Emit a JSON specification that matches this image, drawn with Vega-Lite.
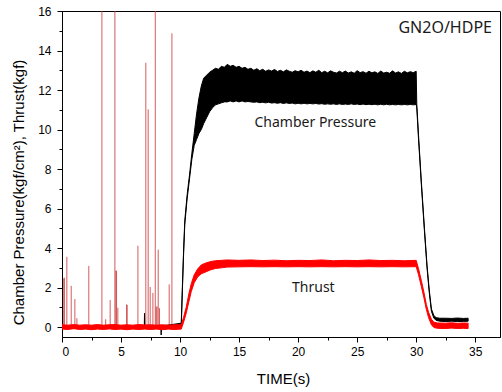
{
  "$schema": "https://vega.github.io/schema/vega-lite/v6.json",
  "width": 438,
  "height": 326,
  "autosize": "none",
  "padding": {"left": 62, "top": 11, "right": 2, "bottom": 55},
  "background": "white",
  "config": {
    "view": {"stroke": "#000", "strokeWidth": 1},
    "axis": {
      "domainColor": "#000", "tickColor": "#000", "labelColor": "#000", "titleColor": "#000",
      "labelFont": "Liberation Sans", "labelFontSize": 12, "titleFont": "Liberation Sans",
      "titleFontSize": 15, "titleFontWeight": "normal", "grid": false
    }
  },
  "datasets": {
    "pressure": [
      {"t": 0, "lo": -0.05, "hi": 0.05}, {"t": 2, "lo": -0.05, "hi": 0.05}, {"t": 4, "lo": -0.05, "hi": 0.05},
      {"t": 6.97, "lo": -0.05, "hi": 0.05}, {"t": 6.99, "lo": -0.05, "hi": 0.7}, {"t": 7.01, "lo": -0.05, "hi": 0.05},
      {"t": 8.38, "lo": -0.05, "hi": 0.05}, {"t": 8.4, "lo": -0.4, "hi": 0.05}, {"t": 8.42, "lo": -0.05, "hi": 0.05},
      {"t": 10.1, "lo": 0.0, "hi": 0.2}, {"t": 10.2, "lo": 1.9, "hi": 2.1}, {"t": 10.3, "lo": 3.7, "hi": 3.9},
      {"t": 10.4, "lo": 5.2, "hi": 5.4}, {"t": 10.6, "lo": 6.5, "hi": 6.7}, {"t": 10.8, "lo": 7.5, "hi": 7.7},
      {"t": 11.0, "lo": 8.5, "hi": 8.8}, {"t": 11.2, "lo": 9.2, "hi": 9.8}, {"t": 11.4, "lo": 9.5, "hi": 10.8},
      {"t": 11.6, "lo": 9.8, "hi": 11.6}, {"t": 11.8, "lo": 10.0, "hi": 12.2}, {"t": 12.0, "lo": 10.3, "hi": 12.6},
      {"t": 12.25, "lo": 10.6, "hi": 12.75}, {"t": 12.5, "lo": 10.9, "hi": 12.9}, {"t": 12.75, "lo": 11.1, "hi": 13.0},
      {"t": 13.0, "lo": 11.25, "hi": 13.1}, {"t": 13.25, "lo": 11.3, "hi": 13.05}, {"t": 13.5, "lo": 11.35, "hi": 13.2},
      {"t": 13.75, "lo": 11.4, "hi": 13.15}, {"t": 14.0, "lo": 11.4, "hi": 13.3}, {"t": 14.25, "lo": 11.45, "hi": 13.2},
      {"t": 14.5, "lo": 11.4, "hi": 13.25}, {"t": 14.75, "lo": 11.45, "hi": 13.15}, {"t": 15.0, "lo": 11.4, "hi": 13.2},
      {"t": 15.25, "lo": 11.45, "hi": 13.1}, {"t": 15.5, "lo": 11.4, "hi": 13.15}, {"t": 15.75, "lo": 11.42, "hi": 13.05},
      {"t": 16.0, "lo": 11.4, "hi": 13.1}, {"t": 16.25, "lo": 11.38, "hi": 13.0}, {"t": 16.5, "lo": 11.4, "hi": 13.08},
      {"t": 16.75, "lo": 11.36, "hi": 12.98}, {"t": 17.0, "lo": 11.38, "hi": 13.05}, {"t": 17.25, "lo": 11.35, "hi": 12.95},
      {"t": 17.5, "lo": 11.38, "hi": 13.02}, {"t": 17.75, "lo": 11.34, "hi": 12.96}, {"t": 18.0, "lo": 11.36, "hi": 13.04},
      {"t": 18.25, "lo": 11.33, "hi": 12.94}, {"t": 18.5, "lo": 11.36, "hi": 13.0}, {"t": 18.75, "lo": 11.32, "hi": 12.92},
      {"t": 19.0, "lo": 11.35, "hi": 13.02}, {"t": 19.25, "lo": 11.32, "hi": 12.95}, {"t": 19.5, "lo": 11.34, "hi": 12.9},
      {"t": 19.75, "lo": 11.3, "hi": 12.98}, {"t": 20.0, "lo": 11.33, "hi": 12.92}, {"t": 20.25, "lo": 11.3, "hi": 13.0},
      {"t": 20.5, "lo": 11.33, "hi": 12.9}, {"t": 20.75, "lo": 11.3, "hi": 12.96}, {"t": 21.0, "lo": 11.32, "hi": 12.88},
      {"t": 21.25, "lo": 11.3, "hi": 12.97}, {"t": 21.5, "lo": 11.32, "hi": 12.9}, {"t": 21.75, "lo": 11.29, "hi": 13.0},
      {"t": 22.0, "lo": 11.31, "hi": 12.88}, {"t": 22.25, "lo": 11.28, "hi": 12.95}, {"t": 22.5, "lo": 11.3, "hi": 12.87},
      {"t": 22.75, "lo": 11.28, "hi": 12.97}, {"t": 23.0, "lo": 11.3, "hi": 12.9}, {"t": 23.25, "lo": 11.27, "hi": 12.86},
      {"t": 23.5, "lo": 11.3, "hi": 12.95}, {"t": 23.75, "lo": 11.27, "hi": 12.88}, {"t": 24.0, "lo": 11.29, "hi": 12.96},
      {"t": 24.25, "lo": 11.27, "hi": 12.86}, {"t": 24.5, "lo": 11.3, "hi": 12.92}, {"t": 24.75, "lo": 11.27, "hi": 12.85},
      {"t": 25.0, "lo": 11.29, "hi": 12.98}, {"t": 25.25, "lo": 11.26, "hi": 12.88}, {"t": 25.5, "lo": 11.29, "hi": 12.93},
      {"t": 25.75, "lo": 11.26, "hi": 12.85}, {"t": 26.0, "lo": 11.28, "hi": 12.95}, {"t": 26.25, "lo": 11.26, "hi": 12.87},
      {"t": 26.5, "lo": 11.28, "hi": 12.92}, {"t": 26.75, "lo": 11.25, "hi": 12.84}, {"t": 27.0, "lo": 11.28, "hi": 12.96},
      {"t": 27.25, "lo": 11.25, "hi": 12.86}, {"t": 27.5, "lo": 11.28, "hi": 12.9}, {"t": 27.75, "lo": 11.25, "hi": 12.85},
      {"t": 28.0, "lo": 11.27, "hi": 12.97}, {"t": 28.25, "lo": 11.25, "hi": 12.86}, {"t": 28.5, "lo": 11.27, "hi": 12.92},
      {"t": 28.75, "lo": 11.25, "hi": 12.84}, {"t": 29.0, "lo": 11.27, "hi": 12.95}, {"t": 29.25, "lo": 11.25, "hi": 12.87},
      {"t": 29.5, "lo": 11.27, "hi": 12.93}, {"t": 29.75, "lo": 11.25, "hi": 12.88}, {"t": 30.0, "lo": 11.27, "hi": 12.95},
      {"t": 30.05, "lo": 11.1, "hi": 11.3}, {"t": 30.2, "lo": 9.5, "hi": 9.7}, {"t": 30.44, "lo": 7.2, "hi": 7.35},
      {"t": 30.7, "lo": 4.85, "hi": 5.0}, {"t": 30.92, "lo": 3.0, "hi": 3.12}, {"t": 31.1, "lo": 1.8, "hi": 1.92},
      {"t": 31.29, "lo": 0.8, "hi": 0.92}, {"t": 31.5, "lo": 0.45, "hi": 0.58}, {"t": 31.7, "lo": 0.34, "hi": 0.48},
      {"t": 32.0, "lo": 0.3, "hi": 0.45}, {"t": 32.5, "lo": 0.28, "hi": 0.45}, {"t": 33.0, "lo": 0.3, "hi": 0.44},
      {"t": 33.5, "lo": 0.28, "hi": 0.46}, {"t": 34.0, "lo": 0.29, "hi": 0.44}, {"t": 34.4, "lo": 0.3, "hi": 0.45}
    ],
    "thrust": [
      {"t": 0, "lo": -0.1, "hi": 0.12}, {"t": 0.5, "lo": -0.12, "hi": 0.1}, {"t": 1, "lo": -0.08, "hi": 0.13},
      {"t": 1.5, "lo": -0.12, "hi": 0.1}, {"t": 2, "lo": -0.1, "hi": 0.12}, {"t": 2.5, "lo": -0.13, "hi": 0.1},
      {"t": 3, "lo": -0.1, "hi": 0.13}, {"t": 3.5, "lo": -0.12, "hi": 0.1}, {"t": 4, "lo": -0.09, "hi": 0.12},
      {"t": 4.5, "lo": -0.12, "hi": 0.13}, {"t": 5, "lo": -0.1, "hi": 0.1}, {"t": 5.5, "lo": -0.13, "hi": 0.12},
      {"t": 6, "lo": -0.1, "hi": 0.1}, {"t": 6.5, "lo": -0.12, "hi": 0.13}, {"t": 7, "lo": -0.1, "hi": 0.11},
      {"t": 7.5, "lo": -0.12, "hi": 0.12}, {"t": 8, "lo": -0.1, "hi": 0.1}, {"t": 8.5, "lo": -0.13, "hi": 0.12},
      {"t": 9, "lo": -0.1, "hi": 0.1}, {"t": 9.5, "lo": -0.12, "hi": 0.12}, {"t": 10.1, "lo": -0.1, "hi": 0.12},
      {"t": 10.3, "lo": 0.25, "hi": 0.5}, {"t": 10.52, "lo": 0.7, "hi": 1.0}, {"t": 10.75, "lo": 1.3, "hi": 1.7},
      {"t": 10.95, "lo": 1.8, "hi": 2.2}, {"t": 11.2, "lo": 2.25, "hi": 2.65}, {"t": 11.5, "lo": 2.55, "hi": 2.95},
      {"t": 11.8, "lo": 2.7, "hi": 3.15}, {"t": 12.2, "lo": 2.8, "hi": 3.25}, {"t": 12.6, "lo": 2.9, "hi": 3.32},
      {"t": 13.0, "lo": 2.97, "hi": 3.36}, {"t": 13.5, "lo": 3.0, "hi": 3.38}, {"t": 14, "lo": 3.04, "hi": 3.4},
      {"t": 15, "lo": 3.05, "hi": 3.38}, {"t": 16, "lo": 3.06, "hi": 3.4}, {"t": 17, "lo": 3.05, "hi": 3.37},
      {"t": 18, "lo": 3.06, "hi": 3.39}, {"t": 19, "lo": 3.05, "hi": 3.36}, {"t": 20, "lo": 3.06, "hi": 3.38},
      {"t": 21, "lo": 3.05, "hi": 3.37}, {"t": 22, "lo": 3.06, "hi": 3.4}, {"t": 23, "lo": 3.05, "hi": 3.36},
      {"t": 24, "lo": 3.06, "hi": 3.38}, {"t": 25, "lo": 3.05, "hi": 3.37}, {"t": 26, "lo": 3.06, "hi": 3.4},
      {"t": 27, "lo": 3.05, "hi": 3.37}, {"t": 28, "lo": 3.06, "hi": 3.38}, {"t": 29, "lo": 3.05, "hi": 3.36},
      {"t": 30.0, "lo": 3.06, "hi": 3.38}, {"t": 30.2, "lo": 2.65, "hi": 2.95}, {"t": 30.44, "lo": 2.05, "hi": 2.35},
      {"t": 30.65, "lo": 1.5, "hi": 1.78}, {"t": 30.86, "lo": 0.9, "hi": 1.15}, {"t": 31.05, "lo": 0.48, "hi": 0.75},
      {"t": 31.29, "lo": 0.12, "hi": 0.4}, {"t": 31.5, "lo": -0.02, "hi": 0.25}, {"t": 31.8, "lo": -0.06, "hi": 0.21},
      {"t": 32.5, "lo": -0.07, "hi": 0.2}, {"t": 33, "lo": -0.05, "hi": 0.22}, {"t": 33.5, "lo": -0.07, "hi": 0.19},
      {"t": 34, "lo": -0.06, "hi": 0.21}, {"t": 34.4, "lo": -0.07, "hi": 0.2}
    ],
    "spikes": [
      {"t": 0.15, "v": 2.47}, {"t": 0.2, "v": 2.5}, {"t": 0.41, "v": 3.56}, {"t": 0.78, "v": 2.09},
      {"t": 1.09, "v": 1.42}, {"t": 1.26, "v": 0.45}, {"t": 2.27, "v": 3.1}, {"t": 3.38, "v": 16.5},
      {"t": 3.7, "v": 0.4}, {"t": 4.08, "v": 1.37}, {"t": 4.48, "v": 16.5}, {"t": 4.56, "v": 2.87},
      {"t": 4.62, "v": 2.85}, {"t": 4.73, "v": 0.98}, {"t": 5.47, "v": 1.15}, {"t": 5.52, "v": 1.12},
      {"t": 6.43, "v": 4.12}, {"t": 7.1, "v": 13.38}, {"t": 7.3, "v": 11.02}, {"t": 7.47, "v": 2.03},
      {"t": 7.7, "v": 1.73}, {"t": 7.9, "v": 16.5}, {"t": 7.98, "v": 1.03}, {"t": 8.05, "v": 1.05},
      {"t": 8.15, "v": 3.92}, {"t": 8.26, "v": 0.96}, {"t": 9.08, "v": 2.16}, {"t": 9.31, "v": 14.87}
    ],
    "labels": [
      {"t": 21.46, "v": 10.35, "label": "Chamber Pressure"},
      {"t": 21.29, "v": 1.97, "label": "Thrust"},
      {"t": 32.46, "v": 15.16, "label": "GN2O/HDPE"}
    ]
  },
  "layer": [
    {
      "data": {"name": "spikes"},
      "mark": {"type": "rule", "color": "#cc4040", "strokeWidth": 1, "opacity": 0.85, "clip": true},
      "encoding": {
        "x": {"field": "t", "type": "quantitative", "scale": {"domain": [0, 37.1], "nice": false, "zero": false}, "axis": null},
        "y": {"field": "v", "type": "quantitative", "scale": {"domain": [-0.5, 16], "nice": false, "zero": false}, "axis": null},
        "y2": {"datum": 0}
      }
    },
    {
      "data": {"name": "pressure"},
      "mark": {"type": "area", "color": "#000", "stroke": "#000", "strokeWidth": 1, "clip": true},
      "encoding": {
        "x": {"field": "t", "type": "quantitative", "axis": {
          "values": [0, 5, 10, 15, 20, 25, 30, 35], "tickSize": 5, "labelPadding": 4, "format": "d",
          "title": "TIME(s)", "titleFontWeight": "normal", "titleBaseline": "middle", "titleY": 41.5, "titleX": 221, "titleAlign": "center"}},
        "y": {"field": "lo", "type": "quantitative", "axis": {
          "values": [0, 2, 4, 6, 8, 10, 12, 14, 16], "tickSize": 5, "labelPadding": 6, "format": "d",
          "title": "Chamber Pressure(kgf/cm²), Thrust(kgf)", "titleFontWeight": "normal", "titleAngle": -90, "titleBaseline": "middle",
          "titleAlign": "center", "titleX": -44, "titleY": 181}},
        "y2": {"field": "hi"}
      }
    },
    {
      "data": {"name": "thrust"},
      "mark": {"type": "area", "color": "#ff0000", "stroke": "#ff0000", "strokeWidth": 1, "clip": true},
      "encoding": {
        "x": {"field": "t", "type": "quantitative", "axis": {
          "orient": "bottom", "values": [2.5, 7.5, 12.5, 17.5, 22.5, 27.5, 32.5], "tickSize": 3,
          "labels": false, "domain": false, "title": null}},
        "y": {"field": "lo", "type": "quantitative", "axis": {
          "orient": "left", "values": [1, 3, 5, 7, 9, 11, 13, 15], "tickSize": 3,
          "labels": false, "domain": false, "title": null}},
        "y2": {"field": "hi"}
      }
    },
    {
      "data": {"name": "labels"},
      "mark": {"type": "text", "font": "Noto Sans", "fontSize": 14, "color": "#1a1a1a", "align": "center", "baseline": "middle"},
      "encoding": {
        "x": {"field": "t", "type": "quantitative", "axis": null},
        "y": {"field": "v", "type": "quantitative", "axis": null},
        "text": {"field": "label"},
        "size": {"condition": {"test": "datum.label === 'GN2O/HDPE'", "value": 16}, "value": 14}
      }
    }
  ],
  "resolve": {"axis": {"x": "independent", "y": "independent"}}
}
